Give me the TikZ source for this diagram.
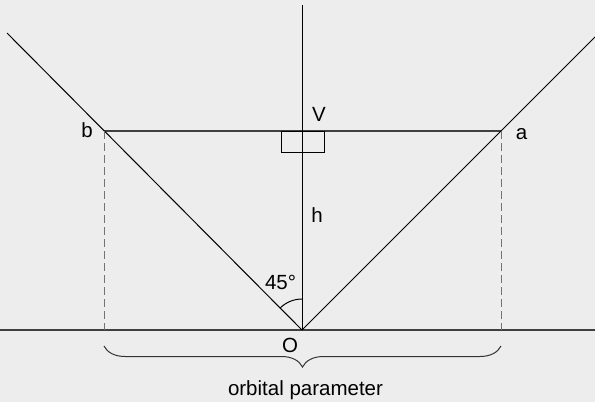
\documentclass[tikz,border=0pt]{standalone}
\usepackage{fontspec}
\setmainfont{Liberation Sans}
\usetikzlibrary{positioning,decorations.pathreplacing}
\definecolor{bgcol}{HTML}{EDEDED}

\begin{document}
\begin{tikzpicture}[
    x=1pt, y=-1pt,
    every node/.style={font=\fontsize{20.5}{23}\selectfont, inner sep=0pt},
    line/.style={black, line width=1pt},
    flat/.style={black!75, line width=1.4pt},
    dashedline/.style={black!55, line width=1pt, dash pattern=on 8pt off 4pt},
    bracket/.style={black!80, line width=1pt, decorate, decoration={brace, amplitude=21pt, mirror}}
]
\fill[bgcol] (0,0) rectangle (595,402);
\useasboundingbox (0,0) rectangle (595,402);

% Points
\coordinate (O) at (302,330);
\coordinate (V) at (302,131);
\coordinate (b) at (104,131);
\coordinate (a) at (501,131);
\coordinate (top) at (302,5);
\coordinate (farleft) at (7,33);
\coordinate (farright) at (595,37);
\coordinate (west) at (0,330);
\coordinate (east) at (595,330);
\coordinate (bfoot) at (104,330);
\coordinate (afoot) at (501,330);
\coordinate (bracel) at (104,346);
\coordinate (bracer) at (501,346);

% Lines
\draw[flat] (west) -- (east);
\draw[flat] (b) -- (a);
\draw[line] (O) -- (top);
\draw[line] (O) -- (farleft);
\draw[line] (O) -- (farright);
\draw[dashedline] (b) -- (bfoot);
\draw[dashedline] (a) -- (afoot);
\draw[line] (281,131) rectangle (324,152);
\draw[line] (O) ++(225:31) arc[start angle=225, end angle=270, radius=31];
\draw[bracket] (bracel) -- (bracer);

% Labels
\node (Vlabel) at (319,114.5) {V};
\node (hlabel) at (317,215) {h};
\node (blabel) at (87,130) {b};
\node (alabel) at (521.5,134) {a};
\node (angle) at (280.5,282) {45°};
\node (Olabel) at (290,345) {O};
\node (orbit) at (305.5,390) {orbital parameter};

\end{tikzpicture}
\end{document}
